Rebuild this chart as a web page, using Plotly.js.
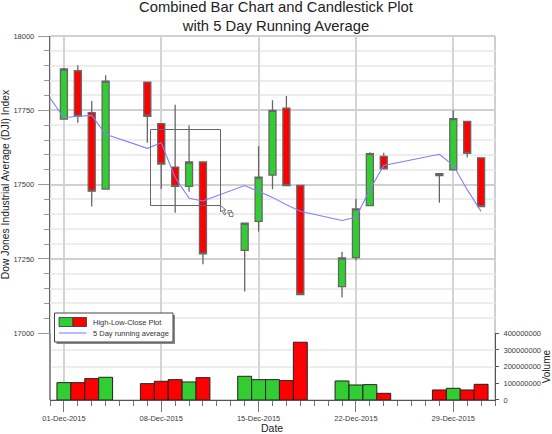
<!DOCTYPE html>
<html><head><meta charset="utf-8">
<script src="https://cdn.plot.ly/plotly-3.0.1.min.js"></script>
<style>html,body{margin:0;padding:0;background:#fff}#c{width:552px;height:434px}</style></head>
<body><div id="c"></div>
<script>
const dates=["2015-12-01","2015-12-02","2015-12-03","2015-12-04","2015-12-07","2015-12-08","2015-12-09","2015-12-10","2015-12-11","2015-12-14","2015-12-15","2015-12-16","2015-12-17","2015-12-18","2015-12-21","2015-12-22","2015-12-23","2015-12-24","2015-12-28","2015-12-29","2015-12-30","2015-12-31"];
const open=[17720,17883,17742,17485,17845,17705,17559,17494,17576,17279,17376,17532,17757,17497,17157,17254,17429,17595,17537,17550,17713,17590];
const high=[17893,17902,17781,17868,17845,17705,17769,17699,17576,17370,17629,17784,17798,17497,17274,17452,17609,17607,17537,17750,17713,17590];
const low=[17720,17708,17426,17485,17641,17486,17405,17476,17232,17140,17342,17484,17497,17130,17120,17245,17429,17553,17439,17550,17591,17426];
const close=[17889,17730,17478,17848,17730,17569,17494,17576,17267,17370,17525,17750,17497,17130,17253,17418,17604,17553,17530,17722,17605,17426];
const volume=[104e6,104e6,128e6,136e6,98e6,112e6,122e6,108e6,134e6,142e6,122e6,122e6,116e6,346e6,114e6,90e6,92e6,40e6,60e6,70e6,60e6,94e6];
const avgDates=["2015-11-30"].concat(dates);
const avg=[17791,17725,17730,17733,17669,17622,17641,17524,17454,17445,17497,17478,17457,17432,17410,17379,17390,17483,17564,17602,17565,17483,17410];
const GREEN="#32CD32",RED="#FF0000";
const volColors=[GREEN,RED,RED,GREEN,RED,RED,RED,GREEN,RED,GREEN,GREEN,GREEN,RED,RED,GREEN,GREEN,GREEN,RED,RED,GREEN,RED,RED];
const priceMajor=[17000,17250,17500,17750,18000];
const priceMinor=[17050,17100,17150,17200,17300,17350,17400,17450,17550,17600,17650,17700,17800,17850,17900,17950];
const volTicks=[0,100e6,200e6,300e6,400e6];
const volTickText=["0","100000000","200000000","300000000","400000000"];
const weekTicks=["2015-12-01","2015-12-08","2015-12-15","2015-12-22","2015-12-29"];
const weekText=["01-Dec-2015","08-Dec-2015","15-Dec-2015","22-Dec-2015","29-Dec-2015"];
const legendLabels=["High-Low-Close Plot","5 Day running average"];
const FF="Liberation Sans, Arial, sans-serif";
const tf={family:FF,size:7.5,color:"#3a3a3a"};
// page pixels -> paper fractions, for the decoration drawn on top of the plot
const L=50,R=57,T=36,B=34,W=552,H=434;
const px=v=>(v-L)/(W-L-R), py=v=>(H-B-v)/(H-B-T);
const rect=(x0,y0,x1,y1,line,fill)=>({type:"rect",xref:"paper",yref:"paper",x0:px(x0),x1:px(x1),y0:py(y1),y1:py(y0),line,fillcolor:fill,layer:"above"});
const path=(pts,line,fill)=>({type:"path",xref:"paper",yref:"paper",path:"M"+pts.map(p=>px(p[0])+","+py(p[1])).join("L")+"Z",line,fillcolor:fill||"rgba(0,0,0,0)",layer:"above"});
const none={width:0};
const traces=[
{type:"bar",x:dates,y:volume,xaxis:"x",yaxis:"y2",marker:{color:volColors,line:{color:"#222",width:1}},showlegend:false,hoverinfo:"skip"},
{type:"candlestick",name:legendLabels[0],x:dates,open,high,low,close,xaxis:"x",yaxis:"y",whiskerwidth:0,showlegend:false,
 increasing:{fillcolor:GREEN,line:{color:"#666",width:1.3}},decreasing:{fillcolor:RED,line:{color:"#666",width:1.3}}},
{type:"scatter",mode:"lines",name:legendLabels[1],x:avgDates,y:avg,xaxis:"x",yaxis:"y",showlegend:false,line:{color:"#8080FF",width:1.1}}
];
const legendNotes=legendLabels.map((t,i)=>({xref:"paper",yref:"paper",x:px(91.5),y:py(i?333:322),xanchor:"left",yanchor:"middle",text:t,showarrow:false,font:{family:FF,size:7.5,color:"#333"},borderpad:0}));
const dateNote={xref:"paper",yref:"paper",x:px(272),y:py(428),xanchor:"center",yanchor:"middle",text:"Date",showarrow:false,font:{family:FF,size:10.5,color:"#222"},borderpad:0};
const layout={
 width:W,height:H,margin:{l:L,r:R,t:T,b:B},paper_bgcolor:"#fff",plot_bgcolor:"#fff",
 title:{text:"Combined Bar Chart and Candlestick Plot<br>with 5 Day Running Average",x:0.5,xanchor:"center",xref:"container",yref:"container",y:1,yanchor:"top",font:{family:FF,size:14.8,color:"#222"},pad:{t:12}},
 showlegend:false,
 boxgap:0.28,bargap:0,
 xaxis:{type:"date",range:["2015-11-30","2016-01-01"],domain:[0,1],anchor:"y2",tickmode:"array",tickvals:weekTicks,ticktext:weekText,tickfont:tf,ticks:"outside",ticklen:11,tickwidth:1,tickcolor:"#777",ticklabelstandoff:0,
  showgrid:true,gridcolor:"#D4D4D4",gridwidth:2,showline:true,linecolor:"#555",linewidth:1,
  rangeslider:{visible:false},
  minor:{dtick:86400000,ticks:"outside",ticklen:5,tickcolor:"#777",tickwidth:1,showgrid:false}},
 yaxis:{domain:[0.1835,1],range:[17000,18000],anchor:"x",side:"left",tickmode:"array",tickvals:priceMajor,tickfont:tf,ticks:"outside",ticklen:11,tickwidth:1,tickcolor:"#999",tickformat:"d",ticklabelstandoff:2,
  showgrid:true,gridcolor:"#D0D0D0",gridwidth:2,zeroline:false,showline:true,linecolor:"#666",linewidth:1.2,
  minor:{tickmode:"array",tickvals:priceMinor,ticks:"outside",ticklen:5,tickcolor:"#999",tickwidth:1,showgrid:true,gridcolor:"#EDEDED",gridwidth:2},
  title:{text:"Dow Jones Industrial Average (DJI) Index",font:{family:FF,size:10.3,color:"#222"},standoff:6}},
 yaxis2:{domain:[0,0.1835],range:[0,400e6],anchor:"x",side:"right",tickmode:"array",tickvals:volTicks,ticktext:volTickText,tickfont:tf,ticks:"outside",ticklen:3,tickcolor:"#555",ticklabelstandoff:3,
  showgrid:false,zeroline:false,showline:true,linecolor:"#555",linewidth:1,
  minor:{tickmode:"array",tickvals:[200e6,300e6],ticks:"",showgrid:true,gridcolor:"#EDEDED",gridwidth:2},
  title:{text:"Volume",font:{family:FF,size:10,color:"#222"},standoff:3}},
 shapes:[
  {type:"rect",xref:"paper",yref:"paper",x0:0,x1:1,y0:0,y1:1,line:{color:"#A0A0A0",width:1},layer:"below"},
  {type:"line",xref:"paper",yref:"paper",x0:0,x1:0,y0:0,y1:0.1835,line:{color:"#666",width:1.2},layer:"above"},
  rect(150.5,129.5,220.5,205.5,{color:"#666",width:1},"rgba(0,0,0,0)"),
  path([[220.5,205.5],[220.5,212],[222,210.5],[224.5,215],[226,214],[223.5,210],[226,210]],{color:"#555",width:0.8},"#fff"),
  rect(228,210.5,231.5,214,{color:"#666",width:0.8},"#fff"),
  rect(229.5,212.5,233,216.5,{color:"#666",width:0.8},"#fff"),
  rect(56.5,315,175,344,none,"#8a8a8a"),
  rect(54.5,313,173,342,{color:"#444",width:1},"#fff"),
  rect(59,317.5,73,326.5,{color:"#333",width:0.8},GREEN),
  rect(73,317.5,86.5,326.5,{color:"#333",width:0.8},RED),
  {type:"line",xref:"paper",yref:"paper",x0:px(59),x1:px(86.5),y0:py(333),y1:py(333),line:{color:"#8080FF",width:1.1},layer:"above"}
 ],
 annotations:legendNotes.concat([dateNote])
};
Plotly.newPlot("c",traces,layout,{displayModeBar:false,staticPlot:true});
</script></body></html>
